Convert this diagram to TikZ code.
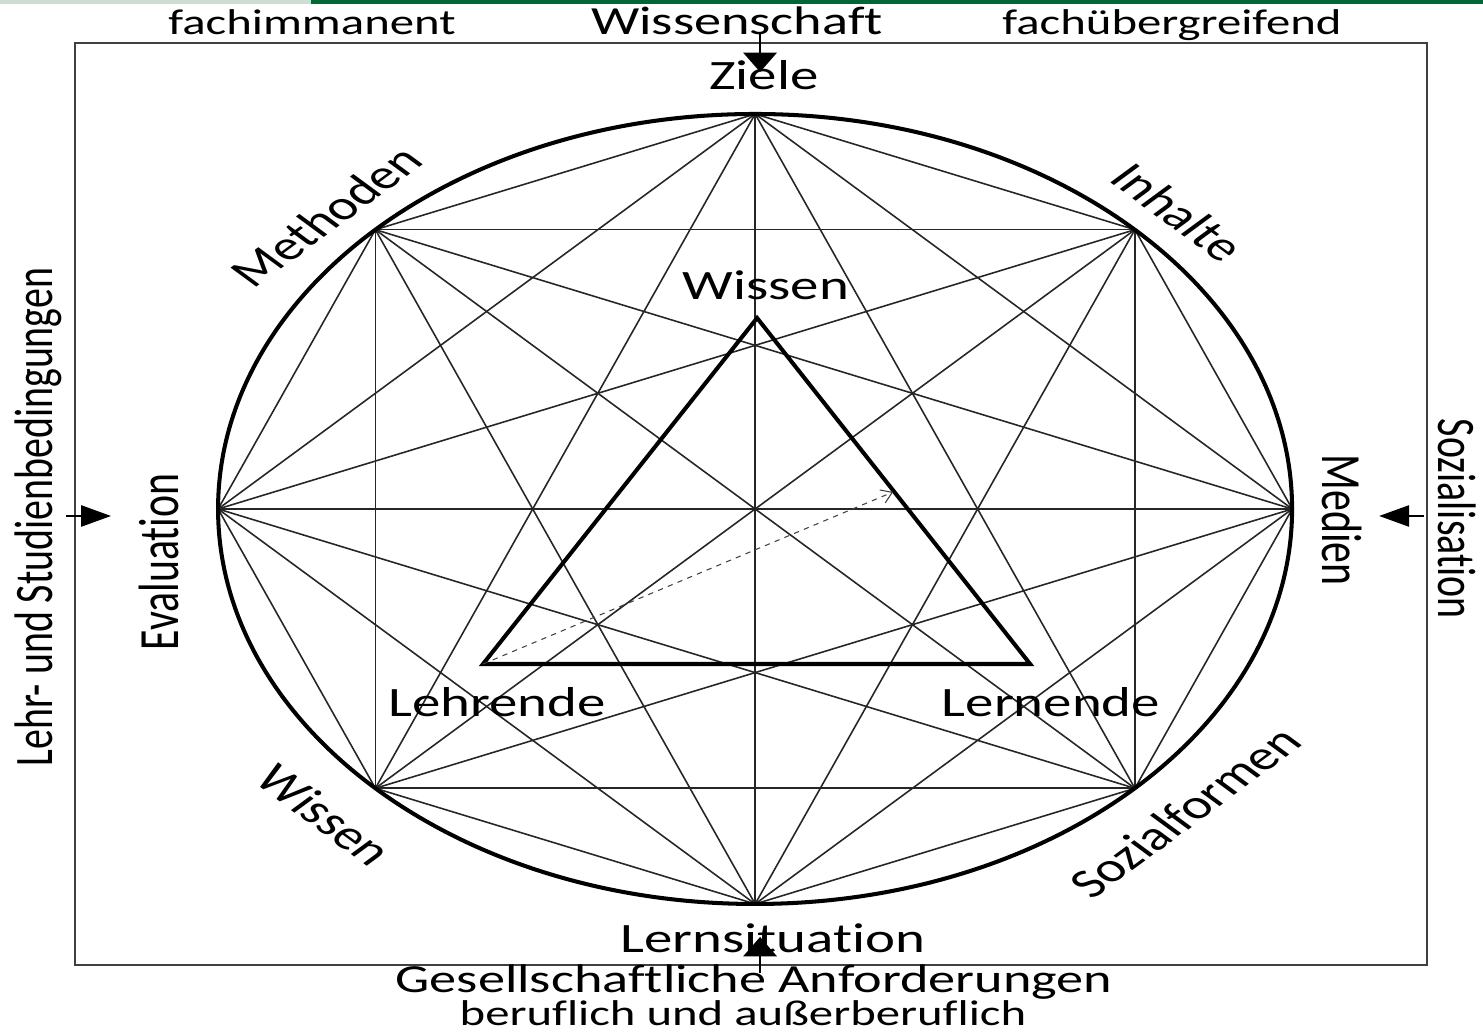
\documentclass[tikz,border=0pt]{standalone}
\usepackage{fontspec}
\setmainfont{Carlito}[RawFeature={-liga}]
\usetikzlibrary{arrows.meta,calc,positioning}
\definecolor{bandgreen}{RGB}{0,102,51}
\definecolor{bandgrey}{RGB}{204,221,211}
\tikzset{
  lab/.style={font=\fontsize{23.8}{26}\selectfont,inner sep=0pt,transform shape},
  midlab/.style={lab,font=\fontsize{22.7}{25}\selectfont},
  smalllab/.style={lab,font=\fontsize{20.4}{23}\selectfont},
  chord/.style={line width=0.9pt,black!85},
  varrow/.style={line width=1.2pt,-{Triangle[width=19pt,length=11pt]}},
  harrow/.style={line width=1.2pt,-{Triangle[width=12pt,length=17pt]}}
}
\begin{document}
\begin{tikzpicture}[xscale=1.36,x=0.0147059cm,y=-0.02cm]
\useasboundingbox (0,0) rectangle (1483,1033);
\fill[bandgrey] (0,0) rectangle (311,4);
\fill[bandgreen] (311,0) rectangle (1483,4);
\draw[line width=1.1pt,black!75] (75,43) rectangle (1427,965);

% Punkte auf dem Kreis und alle Verbindungen
\coordinate (c) at (755,509);
\foreach \i in {0,...,7}
  \coordinate (p\i) at ($(c)+(\i*45:537 and 395)$);
\foreach \i in {0,...,6}{
  \pgfmathtruncatemacro\nxt{\i+1}
  \foreach \j in {\nxt,...,7}
    \draw[chord] (p\i) -- (p\j);
}
\draw[line width=2.3pt] (c) ellipse [x radius=537, y radius=395];

% Dreieck
\coordinate (wi) at (757,318);
\coordinate (le) at (483,664);
\coordinate (ln) at (1030,664);
\coordinate (dend) at (893,492);
\draw[line width=2.3pt,line join=miter] (wi) -- (le) -- (ln) -- cycle;
\draw[dashed,line width=0.6pt,black!75,-{Straight Barb[length=6pt,width=8pt]}] (le) -- (dend);

% Beschriftung
\node[smalllab,anchor=base] (fachim) at (312,35) {fachimmanent};
\node[midlab,anchor=base] (wiss) at (737,35) {Wissenschaft};
\node[smalllab,anchor=base] (fachueb) at (1172,35) {fachübergreifend};
\node[lab,anchor=base] (ziele) at (764,90) {Ziele};
\node[lab,anchor=base] (wissen) at (766,300) {Wissen};
\node[lab,anchor=base] (lehrende) at (497,717) {Lehrende};
\node[lab,anchor=base] (lernende) at (1051,717) {Lernende};
\node[lab,anchor=base] (lernsit) at (773,953) {Lernsituation};
\node[midlab,anchor=base] (gesell) at (754,993) {Gesellschaftliche Anforderungen};
\node[smalllab,anchor=base] (beruf) at (743,1026) {beruflich und außerberuflich};
\node[lab,rotate=45] (methoden) at (326,216) {Methoden};
\node[lab,rotate=-45] (inhalte) at (1178,212) {Inhalte};
\node[lab,rotate=-45] (wissenu) at (325,815) {Wissen};
\node[lab,rotate=45] (sozform) at (1185,812) {Sozialformen};
\node[lab,rotate=90] (eval) at (159,562) {Evaluation};
\node[lab,rotate=-90] (medien) at (1342,520) {Medien};
\node[midlab,rotate=90] (lehr) at (38,517) {Lehr- und Studienbedingungen};
\node[midlab,rotate=-90] (sozial) at (1457,519) {Sozialisation};

% Einflusspfeile
\coordinate (tin) at (760,34);
\coordinate (tout) at (760,72);
\coordinate (bin) at (760,973);
\coordinate (bout) at (760,937);
\coordinate (lin) at (66,516);
\coordinate (lout) at (111,516);
\coordinate (rin) at (1424,516);
\coordinate (rout) at (1379,516);
\draw[varrow] (tin) -- (tout);
\draw[varrow] (bin) -- (bout);
\draw[harrow] (lin) -- (lout);
\draw[harrow] (rin) -- (rout);
\end{tikzpicture}
\end{document}
